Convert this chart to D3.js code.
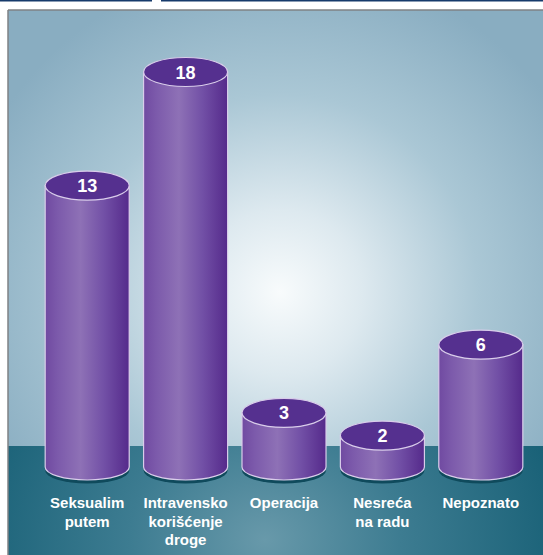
<!DOCTYPE html>
<html>
<head>
<meta charset="utf-8">
<script src="https://cdn.jsdelivr.net/npm/d3@7/dist/d3.min.js"></script>
<style>
  html, body { margin: 0; padding: 0; background: #ffffff; }
  svg { display: block; }
</style>
</head>
<body>
<script>
// Načini prenosa – broj slučajeva
const categories = ["Seksualim putem", "Intravensko korišćenje droge", "Operacija", "Nesreća na radu", "Nepoznato"];
const labelLines = [["Seksualim", "putem"], ["Intravensko", "korišćenje", "droge"], ["Operacija"], ["Nesreća", "na radu"], ["Nepoznato"]];
const values = [13, 18, 3, 2, 6];

const W = 543, H = 555;
const svg = d3.select("body").append("svg").attr("width", W).attr("height", H);
const defs = svg.append("defs");

// Sky backdrop: light glow fading to steel blue
const sky = defs.append("radialGradient").attr("id", "sky")
  .attr("gradientUnits", "userSpaceOnUse").attr("cx", 280).attr("cy", 292).attr("r", 330);
[[0, "#f8fbfc"], [0.25, "#dde9ef"], [0.6, "#aac7d5"], [1, "#89adc1"]]
  .forEach(([o, c]) => sky.append("stop").attr("offset", o).attr("stop-color", c));

// Floor band: teal with a lighter centre
const floor = defs.append("radialGradient").attr("id", "floor")
  .attr("gradientUnits", "userSpaceOnUse").attr("cx", 265).attr("cy", 540).attr("r", 300)
  .attr("gradientTransform", "translate(265,540) scale(1,0.85) translate(-265,-540)");
[[0, "#6899aa"], [0.45, "#3d7c91"], [1, "#196177"]]
  .forEach(([o, c]) => floor.append("stop").attr("offset", o).attr("stop-color", c));

// Cylinder side shading
const side = defs.append("linearGradient").attr("id", "side")
  .attr("x1", 0).attr("x2", 1).attr("y1", 0).attr("y2", 0);
[[0, "#704aa1"], [0.15, "#7c5aab"], [0.42, "#8e71b6"], [0.7, "#7250a6"], [1, "#552a8b"]]
  .forEach(([o, c]) => side.append("stop").attr("offset", o).attr("stop-color", c));

// Frame
const panelX = 8, panelY = 10, floorY = 446;
svg.append("rect").attr("x", panelX).attr("y", panelY).attr("width", W - panelX).attr("height", floorY - panelY)
  .attr("fill", "url(#sky)");
svg.append("rect").attr("x", panelX).attr("y", floorY).attr("width", W - panelX).attr("height", H - floorY)
  .attr("fill", "url(#floor)");
svg.append("line").attr("x1", panelX).attr("x2", W).attr("y1", panelY).attr("y2", panelY)
  .attr("stroke", "#7f8285").attr("stroke-width", 1.5);
svg.append("line").attr("x1", panelX).attr("x2", panelX).attr("y1", panelY).attr("y2", H)
  .attr("stroke", "#7f8285").attr("stroke-width", 1.5);
svg.append("line").attr("x1", 0).attr("x2", 152).attr("y1", 0.75).attr("y2", 0.75)
  .attr("stroke", "#163a6b").attr("stroke-width", 1.5);
svg.append("line").attr("x1", 161).attr("x2", W).attr("y1", 0.75).attr("y2", 0.75)
  .attr("stroke", "#163a6b").attr("stroke-width", 1.5);

// Scales
const x = d3.scaleBand().domain(categories).range([38, 530]).paddingInner(0.146).paddingOuter(0.073);
const y = d3.scaleLinear().domain([0, 18]).range([481, 72]);

const baseY = 467;   // centre of each cylinder's bottom ellipse
const ryTop = 14.5, ryBot = 13;

const bars = svg.append("g").selectAll("g").data(categories).join("g");

bars.each(function (c, i) {
  const g = d3.select(this);
  const x0 = x(c), bw = x.bandwidth(), rx = bw / 2, cx = x0 + rx;
  const yt = y(values[i]);
  // shadow under the base
  g.append("ellipse").attr("cx", cx).attr("cy", baseY + 3.5).attr("rx", rx).attr("ry", ryBot)
    .attr("fill", "#0f4a5c");
  // body
  g.append("path")
    .attr("d", `M${x0},${yt} L${x0},${baseY} A${rx},${ryBot} 0 0 0 ${x0 + bw},${baseY} L${x0 + bw},${yt} Z`)
    .attr("fill", "url(#side)").attr("stroke", "#d9cdea").attr("stroke-width", 1.2);
  // top
  g.append("ellipse").attr("cx", cx).attr("cy", yt).attr("rx", rx).attr("ry", ryTop)
    .attr("fill", "#55308f").attr("stroke", "#d9cdea").attr("stroke-width", 1.2);
  g.append("text").attr("x", cx).attr("y", yt + 6.5).attr("text-anchor", "middle")
    .attr("font-family", "'Liberation Sans', Arial, Helvetica, sans-serif").attr("font-weight", "bold")
    .attr("font-size", 18).attr("fill", "#ffffff").text(values[i]);
});

// Category labels
const labels = svg.append("g").selectAll("text").data(categories).join("text")
  .attr("x", c => x(c) + x.bandwidth() / 2)
  .attr("y", 508)
  .attr("text-anchor", "middle")
  .attr("font-family", "'Liberation Sans', Arial, Helvetica, sans-serif")
  .attr("font-weight", "bold").attr("font-size", 15).attr("fill", "#ffffff");
labels.each(function (c, i) {
  d3.select(this).selectAll("tspan").data(labelLines[i]).join("tspan")
    .attr("x", x(c) + x.bandwidth() / 2)
    .attr("dy", (d, j) => j === 0 ? 0 : 18.5)
    .text(d => d);
});
</script>
</body>
</html>
